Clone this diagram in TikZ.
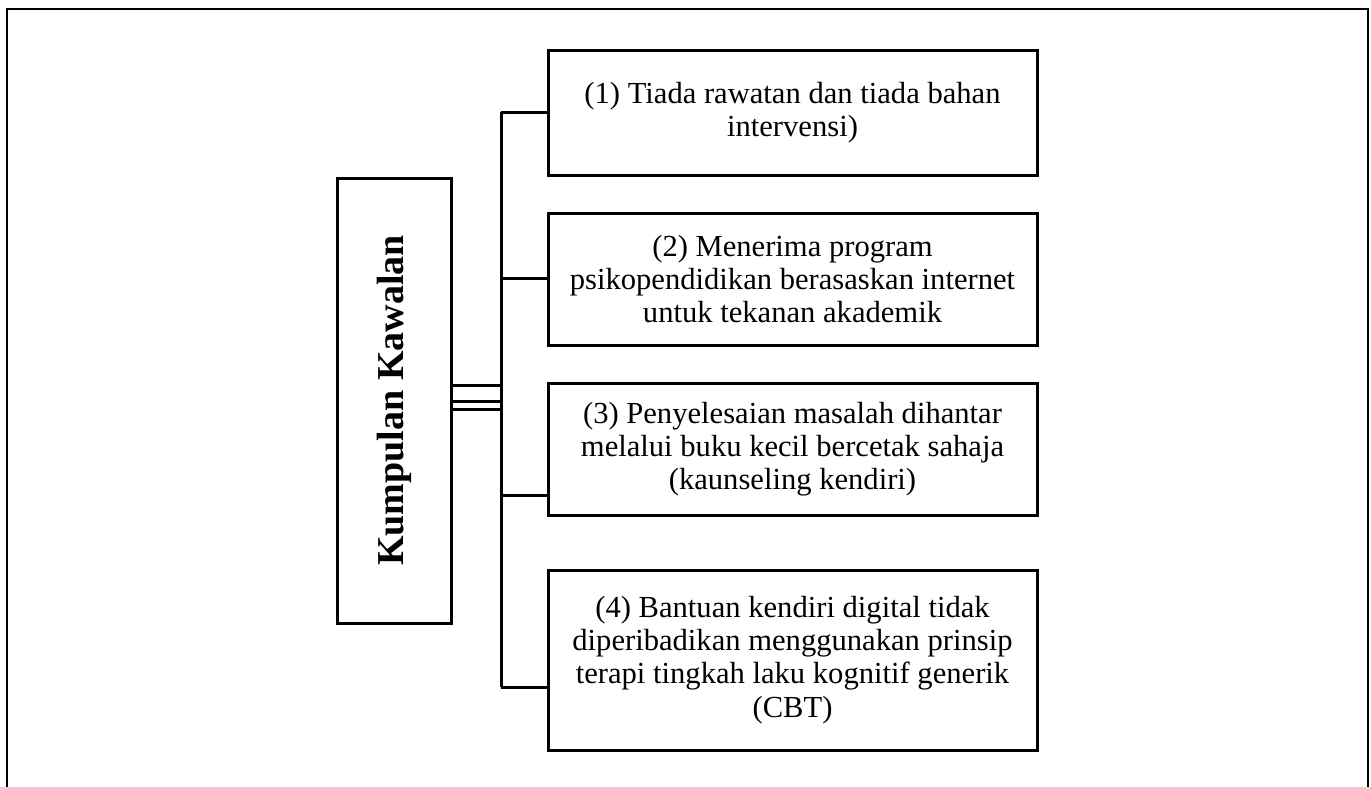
\documentclass[tikz,border=0pt]{standalone}
\usepackage{fontspec}
\setmainfont{Liberation Serif}
\usetikzlibrary{positioning,calc}

\tikzset{
  optbox/.style={draw, line width=1.5pt, minimum width=244.5pt, align=center,
    inner sep=0pt, font=\fontsize{15.3}{16.6}\selectfont},
  grpbox/.style={draw, line width=1.5pt, minimum width=57pt, minimum height=222.5pt},
  conn/.style={line width=1.5pt}
}

\begin{document}
\begin{tikzpicture}[x=0.5pt,y=-0.5pt]
  \useasboundingbox (0,0) rectangle (1371,787);
  % open frame
  \draw[line width=1.25pt] (7,787) -- (7,9) -- (1368,9) -- (1368,787);

  \node[grpbox] (ctrl) at (394,400.5) {};
  \node[rotate=90, font=\bfseries\fontsize{19}{22}\selectfont] (ctrltxt) at (ctrl.center) {Kumpulan Kawalan};

  \node[optbox, minimum height=62.5pt] (opt1) at (792.5,112.5)
    {(1) Tiada rawatan dan tiada bahan\\ intervensi)};
  \node[optbox, minimum height=66pt] (opt2) at (792.5,279)
    {(2) Menerima program\\ psikopendidikan berasaskan internet\\ untuk tekanan akademik};
  \node[optbox, minimum height=66pt] (opt3) at (792.5,449)
    {(3) Penyelesaian masalah dihantar\\ melalui buku kecil bercetak sahaja\\ (kaunseling kendiri)};
  \node[optbox, minimum height=90pt] (opt4) at (792.5,660)
    {(4) Bantuan kendiri digital tidak\\ diperibadikan menggunakan prinsip\\ terapi tingkah laku kognitif generik\\ (CBT)};

  % trunk and branches
  \coordinate (t1) at (501,112);
  \coordinate (t2) at (501,278);
  \coordinate (t3) at (501,495);
  \coordinate (t4) at (501,687);
  \draw[conn] (t1) -- (t4);
  \foreach \t/\b in {t1/opt1,t2/opt2,t3/opt3,t4/opt4}
    \draw[conn] (\t) -- (\t -| \b.west);
  \foreach \y in {385,401,409}
    \draw[conn] (ctrl.east |- 0,\y) -- (t1 |- 0,\y);
\end{tikzpicture}
\end{document}
